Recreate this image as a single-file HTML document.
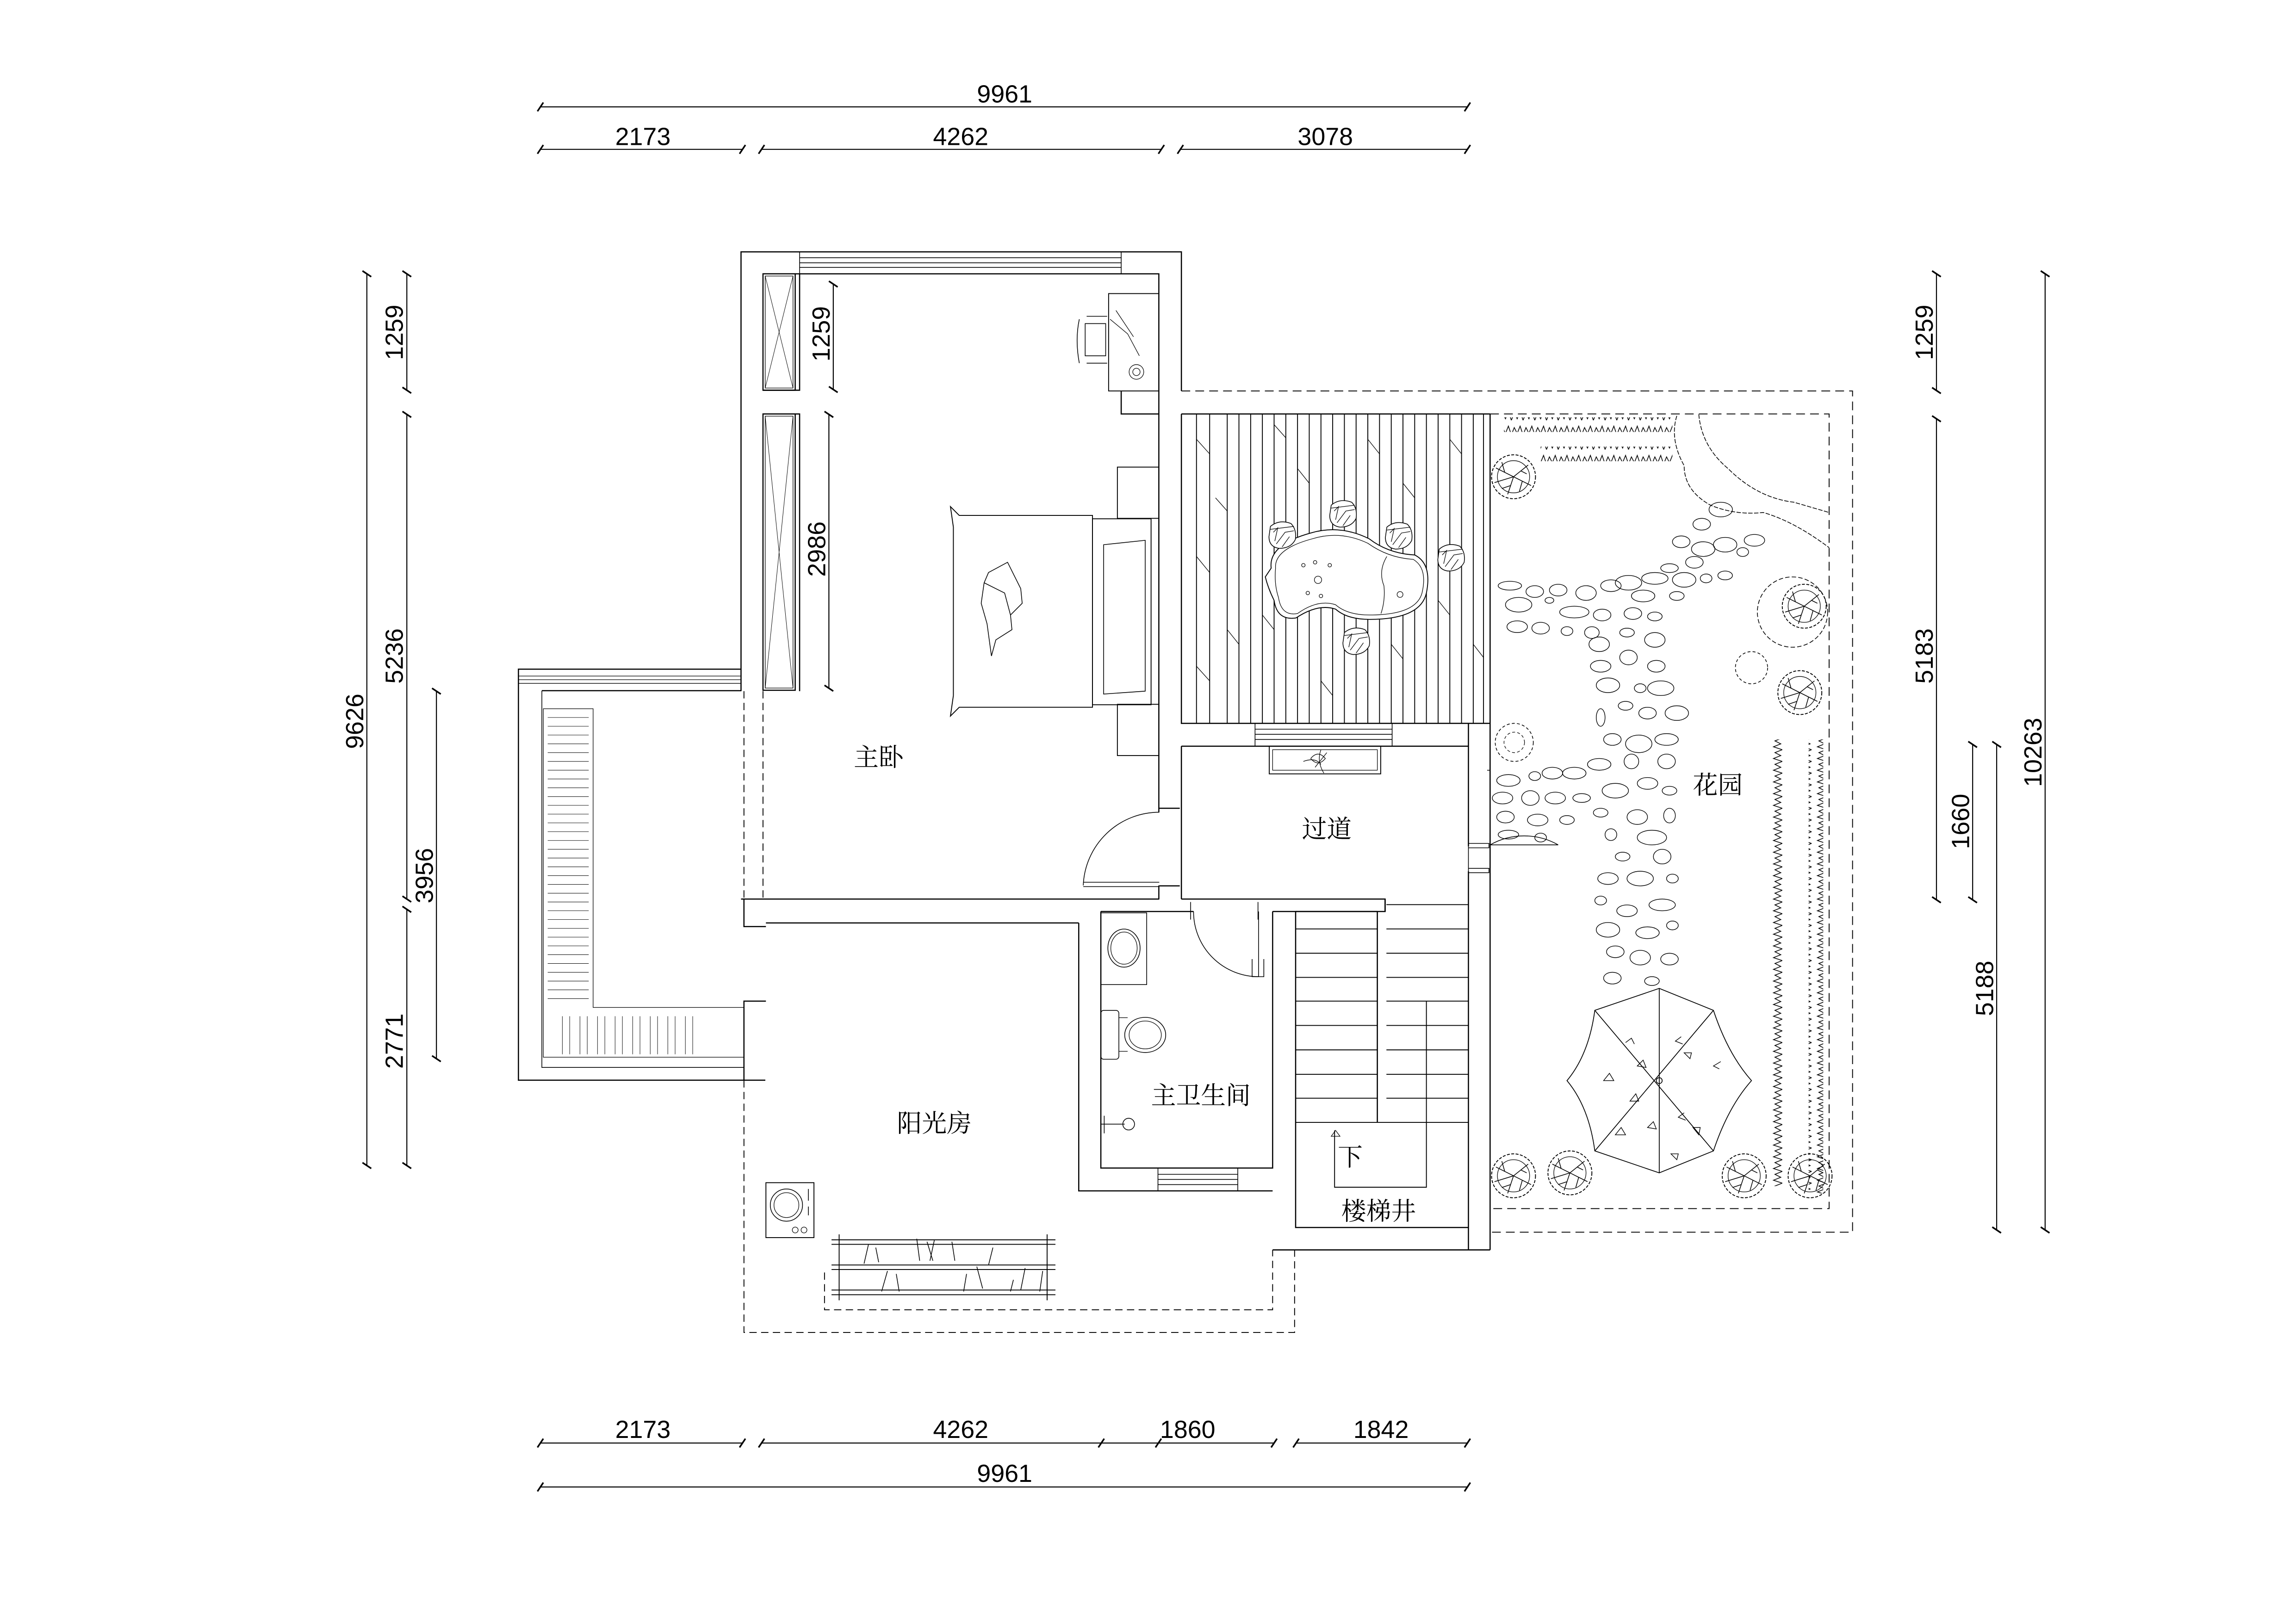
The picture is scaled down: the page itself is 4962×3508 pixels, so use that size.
<!DOCTYPE html>
<html><head><meta charset="utf-8"><style>
html,body{margin:0;padding:0;background:#fff}
svg{display:block}
text{font-family:"Liberation Sans","Noto Sans CJK SC",sans-serif;fill:#000}
.cn{font-family:"Liberation Serif","Noto Serif CJK SC",serif;font-size:17px}
.d{font-size:17px}
</style></head><body>
<svg width="4962" height="3508" viewBox="0 0 1567.8 1108.4" xmlns="http://www.w3.org/2000/svg" fill="none" stroke="#000" stroke-width="0.8">
<defs>
<pattern id="zh" width="8" height="10" patternUnits="userSpaceOnUse"><path d="M0,7 L2,2 L4,6 L6,1 L8,7" stroke="#000" stroke-width="0.5" fill="none"/></pattern>
<pattern id="zv" width="10" height="8" patternUnits="userSpaceOnUse"><path d="M7,0 L2,2 L6,4 L1,6 L7,8" stroke="#000" stroke-width="0.5" fill="none"/></pattern>
<g id="tree"><circle r="15" stroke-width="0.6" stroke-dasharray="2,1"/><circle r="11" stroke-width="0.4"/><path d="M0,0 L-12,-6 M0,0 L10,-8 M0,0 L-4,12 M0,0 L12,6 M0,0 L-13,4 M-6,-3 L-8,-10 M5,-4 L9,-2 M-2,6 L-8,8 M6,3 L4,10" stroke-width="0.5"/></g>
<g id="stool"><path d="M-8,-6 Q-2,-11 6,-8 Q10,-4 9,3 Q6,9 -2,9 Q-9,8 -9,1 Z" stroke-width="0.5"/><path d="M-8,-4 L8,-6 M-6,-2 L-3,-5 L-5,4 M-4,6 L2,-2 L8,-3 M0,8 L5,1" stroke-width="0.4"/></g>
</defs>

<!-- ===== DIMENSIONS ===== -->
<g stroke-width="0.7">
<line x1="369" y1="73" x2="1002" y2="73"/>
<line x1="369" y1="102" x2="507" y2="102"/><line x1="520" y1="102" x2="793" y2="102"/><line x1="806" y1="102" x2="1002" y2="102"/>
<line x1="369" y1="985.5" x2="507" y2="985.5"/><line x1="520" y1="985.5" x2="870" y2="985.5"/><line x1="885" y1="985.5" x2="1002" y2="985.5"/>
<line x1="369" y1="1015.5" x2="1002" y2="1015.5"/>
<line x1="250.5" y1="187" x2="250.5" y2="796"/>
<line x1="277.8" y1="187" x2="277.8" y2="266.5"/><line x1="277.8" y1="283" x2="277.8" y2="614"/><line x1="277.8" y1="621" x2="277.8" y2="796"/>
<line x1="298" y1="472" x2="298" y2="723"/>
<line x1="1322.3" y1="187" x2="1322.3" y2="266.7"/><line x1="1322.3" y1="286" x2="1322.3" y2="614.5"/>
<line x1="1347" y1="508.4" x2="1347" y2="614.5"/>
<line x1="1363.4" y1="508.4" x2="1363.4" y2="840"/>
<line x1="1396.5" y1="187" x2="1396.5" y2="840"/>
<line x1="569" y1="194" x2="569" y2="266"/>
<line x1="566" y1="283" x2="566" y2="470"/>
</g>
<g stroke-width="1.1">
<path d="M367,76 l4,-6 M505,105 l4,-6 M518,105 l4,-6 M791,105 l4,-6 M804,105 l4,-6 M1000,76 l4,-6 M1000,105 l4,-6 M367,105 l4,-6"/>
<path d="M367,988.5 l4,-6 M505,988.5 l4,-6 M518,988.5 l4,-6 M750,988.5 l4,-6 M789,988.5 l4,-6 M868,988.5 l4,-6 M883,988.5 l4,-6 M1000,988.5 l4,-6 M367,1018.5 l4,-6 M1000,1018.5 l4,-6"/>
<path d="M247.5,185 l6,4 M247.5,794 l6,4 M274.8,185 l6,4 M274.8,264.5 l6,4 M274.8,281 l6,4 M274.8,612 l6,4 M274.8,619 l6,4 M274.8,794 l6,4 M295,470 l6,4 M295,721 l6,4"/>
<path d="M1319.3,185 l6,4 M1319.3,264.7 l6,4 M1319.3,284 l6,4 M1319.3,612.5 l6,4 M1344,506.4 l6,4 M1344,612.5 l6,4 M1360.4,506.4 l6,4 M1360.4,838 l6,4 M1393.5,185 l6,4 M1393.5,838 l6,4 M566,192 l6,4 M566,264 l6,4 M563,281 l6,4 M563,468 l6,4"/>
</g>
<g stroke="none">
<text class="d" x="686" y="70" text-anchor="middle">9961</text>
<text class="d" x="439" y="99" text-anchor="middle">2173</text>
<text class="d" x="656" y="99" text-anchor="middle">4262</text>
<text class="d" x="905" y="99" text-anchor="middle">3078</text>
<text class="d" x="439" y="982" text-anchor="middle">2173</text>
<text class="d" x="656" y="982" text-anchor="middle">4262</text>
<text class="d" x="811" y="982" text-anchor="middle">1860</text>
<text class="d" x="943" y="982" text-anchor="middle">1842</text>
<text class="d" x="686" y="1012" text-anchor="middle">9961</text>
<text class="d" transform="translate(248,492.6) rotate(-90)" text-anchor="middle">9626</text>
<text class="d" transform="translate(275,227) rotate(-90)" text-anchor="middle">1259</text>
<text class="d" transform="translate(275,448) rotate(-90)" text-anchor="middle">5236</text>
<text class="d" transform="translate(275,711) rotate(-90)" text-anchor="middle">2771</text>
<text class="d" transform="translate(295.5,598) rotate(-90)" text-anchor="middle">3956</text>
<text class="d" transform="translate(1319.8,227) rotate(-90)" text-anchor="middle">1259</text>
<text class="d" transform="translate(1319.8,448) rotate(-90)" text-anchor="middle">5183</text>
<text class="d" transform="translate(1344.5,561) rotate(-90)" text-anchor="middle">1660</text>
<text class="d" transform="translate(1361,675) rotate(-90)" text-anchor="middle">5188</text>
<text class="d" transform="translate(1394,513.8) rotate(-90)" text-anchor="middle">10263</text>
<text class="d" transform="translate(566.5,228) rotate(-90)" text-anchor="middle">1259</text>
<text class="d" transform="translate(563.5,375) rotate(-90)" text-anchor="middle">2986</text>
</g>

<!-- ===== BEDROOM ===== -->
<path d="M506,472 V172 H806.7 V267"/>
<path d="M546,187 H791.3 V554.7"/>
<path d="M546,172 V187 M765.6,172 V187 M546,176 H765.6 M546,179.5 H765.6 M546,182.6 H765.6" stroke-width="0.5"/>
<!-- wardrobes -->
<rect x="521" y="187" width="22" height="79.5"/>
<rect x="522.5" y="188.5" width="19" height="76.5" stroke-width="0.4"/>
<path d="M522.5,188.5 L541.5,265 M541.5,188.5 L522.5,265" stroke-width="0.3"/>
<path d="M543,187 H546 V266.5 H521 M521,282.7 H546 V472" />
<rect x="521" y="282.7" width="22" height="188.7"/>
<rect x="522.5" y="284.2" width="19" height="185.7" stroke-width="0.4"/>
<path d="M522.5,284.2 L541.5,470 M541.5,284.2 L522.5,470" stroke-width="0.3"/>
<!-- desk -->
<rect x="757" y="200.5" width="34.3" height="66.5" stroke-width="0.6"/>
<path d="M765.6,267 V282.7 H791.3" />
<path d="M758,218 L770,228 L778,243 M762,212 L774,230" stroke-width="0.4"/>
<circle cx="776" cy="254" r="5" stroke-width="0.4"/><circle cx="776" cy="254" r="2.5" stroke-width="0.4"/>
<path d="M741,221 h14 v22 h-14 z M737,218 q-3,14 0,30 M742,216 h14 M742,248 h14" stroke-width="0.5"/>
<!-- bed -->
<rect x="763" y="319" width="28.3" height="35" stroke-width="0.6"/>
<rect x="763" y="481" width="28.3" height="35" stroke-width="0.6"/>
<rect x="746" y="354.3" width="40" height="127" stroke-width="0.6"/>
<path d="M746,352 H655 L649,346 L651,360 V475 L649,489 L655,483 H746 Z" stroke-width="0.6"/>
<path d="M753.6,372 L782,369 V472 L753.6,474 Z" stroke-width="0.5"/>
<path d="M675,391 L688,384 L697,402 L698,412 L690,420 L691,430 L680,437 L677,448 L674,426 L670,412 L672,398 Z M672,398 L686,405 L690,420" stroke-width="0.5"/>
<!-- bedroom door -->
<path d="M791.6,554.7 A52,52 0 0 0 739.7,604.7" stroke-width="0.5"/>
<path d="M739.7,602.5 H791.6 M739.7,605.5 H791.6" stroke-width="0.5"/>
<path d="M791.3,604.7 V614 M506,614 H791.6" />
<path d="M791.6,552 h14 M791.6,605 h14" stroke-width="0.8"/>
<!-- bedroom dashed left -->
<path d="M508,472 V614 M521,472 V614" stroke-dasharray="5,3" stroke-width="0.6"/>

<!-- ===== SUNROOM LEFT ===== -->
<path d="M506,457 H354 V737.7 H522.6"/>
<path d="M354,461.7 H506 M354,464.2 H506 M354,466.7 H506" stroke-width="0.4"/>
<path d="M370,471.7 H506" />
<path d="M370,471.7 V729 H508" stroke-width="0.5"/>
<path d="M371,484 H405 V688 H508 V722 H371 Z" stroke-width="0.4"/>
<g stroke-width="0.3">
<path d="M374,490h28M374,496h28M374,502h28M374,508h28M374,514h28M374,520h28M374,526h28M374,532h28M374,538h28M374,544h28M374,550h28M374,556h28M374,562h28M374,568h28M374,574h28M374,580h28M374,586h28M374,592h28M374,598h28M374,604h28M374,610h28M374,616h28M374,622h28M374,628h28M374,634h28M374,640h28M374,646h28M374,652h28M374,658h28M374,664h28M374,670h28M374,676h28M374,682h28"/>
<path d="M384,694v26M389,694v26M396,694v26M401,694v26M408,694v26M413,694v26M420,694v26M425,694v26M432,694v26M437,694v26M444,694v26M449,694v26M456,694v26M461,694v26M468,694v26M473,694v26"/>
</g>
<path d="M508,614 V632.8 H523 M523,630.3 H736.6" />
<path d="M508,737.7 V683.7 H523" />
<!-- sunroom dashed -->
<path d="M508,737.7 V910 H884 V853.6 M563,869 V894.5 H869 V853.6" stroke-dasharray="5,3" stroke-width="0.6"/>
<!-- washer -->
<rect x="523" y="807.7" width="32.8" height="37.5" stroke-width="0.6"/>
<circle cx="537" cy="823" r="11" stroke-width="0.5"/><circle cx="537" cy="823" r="8.5" stroke-width="0.4"/>
<path d="M552,812v8M552,824v6" stroke-width="0.5"/>
<circle cx="543" cy="840" r="2" stroke-width="0.4"/><circle cx="549" cy="840" r="2" stroke-width="0.4"/>
<!-- shelves -->
<g stroke-width="0.6">
<path d="M567.8,846.7 H720.7 M567.8,849.8 H720.7 M567.8,863.9 H720.7 M567.8,867 H720.7 M567.8,881 H720.7 M567.8,884.2 H720.7"/>
<path d="M573,843 V888 M715,843 V888"/>
</g>
<path d="M593,850 l-3,13 M598,852 l2,10 M606,868 l-4,14 M612,870 l2,12 M626,846 l2,15 M633,848 l4,13 M638,847 l-3,14 M660,870 l-2,12 M667,865 l4,15 M678,852 l-3,12 M700,866 l-3,15 M692,874 l-2,8 M712,868 l-2,14 M650,848 l2,13" stroke-width="0.5"/>

<!-- ===== BATHROOM ===== -->
<path d="M736.6,630.3 V813.3 H869 M751.7,622.5 V797.7 H869 V622.5 M751.7,622.5 H815" />
<path d="M790.7,797.7 V813.3 M845.2,797.7 V813.3 M790.7,802 H845.2 M790.7,805.5 H845.2 M790.7,809 H845.2" stroke-width="0.5"/>
<path d="M859.4,622.5 V667 M815,622.5 A44.4,44.4 0 0 0 859.4,667" stroke-width="0.5"/>
<path d="M806.7,614 H945.8 V622.5 H869 M806.7,614 V509.6" />
<path d="M813,616 v12 M859,616 v12 M855,655 v12 h8 v-12" stroke-width="0.5"/>
<!-- sink -->
<rect x="751.7" y="623.4" width="31.3" height="49" stroke-width="0.5"/>
<ellipse cx="767.5" cy="647.5" rx="11" ry="13" stroke-width="0.5"/><ellipse cx="767.5" cy="647.5" rx="9" ry="11" stroke-width="0.4"/>
<!-- toilet -->
<rect x="751.7" y="690" width="12.3" height="33.4" rx="2" stroke-width="0.5"/>
<ellipse cx="782" cy="706.8" rx="14" ry="12" stroke-width="0.5"/><ellipse cx="782" cy="706.8" rx="11" ry="9.5" stroke-width="0.4"/>
<path d="M764,695 h6 M764,718 h6" stroke-width="0.4"/>
<circle cx="770.7" cy="767.7" r="4" stroke-width="0.5"/><path d="M752,767.7 h16 M754,762 v12" stroke-width="0.5"/>

<!-- ===== STAIRS ===== -->
<path d="M884.7,622.5 V838.3 H1002.7 M945.8,614 V622.5 M940.5,622.5 V766.5 M884.7,622.5 H940.5" />
<g stroke-width="0.6">
<path d="M884.7,634.4H940.5M884.7,651H940.5M884.7,667.5H940.5M884.7,683.7H940.5M884.7,700.3H940.5M884.7,717H940.5M884.7,733.7H940.5M884.7,750H940.5M884.7,766.5H1002.7"/>
<path d="M946.7,617.8H1002.7M946.7,634.4H1002.7M946.7,651H1002.7M946.7,667.5H1002.7M946.7,683.7H1002.7M946.7,700.3H1002.7M946.7,717H1002.7M946.7,733.7H1002.7M946.7,750H1002.7"/>
<path d="M974,683.7 V810.8 H911.3 V772"/>
<path d="M909,776 l3,-4 l3,4 z" stroke-width="0.4"/>
</g>
<path d="M869,853.6 H1017.5" />
<!-- corridor -->
<path d="M806.7,282.7 V494 H1017.5 M806.7,509.6 H1002.7 V578 M1002.7,595 V853.6 M1017.5,282.7 V853.6 M1002.7,494 V509.6" />
<path d="M857,494 V509.6 M950.6,494 V509.6 M857,498 H950.6 M857,501.5 H950.6 M857,505 H950.6" stroke-width="0.5"/>
<rect x="866.7" y="509.6" width="76.1" height="18.9" stroke-width="0.6"/>
<rect x="869" y="512" width="71.5" height="14" stroke-width="0.4"/>
<path d="M895,518 q5,-6 10,0 q-5,6 -10,0 M890,520 q8,-3 12,2 M902,512 q-3,8 2,16 M898,524 l8,-10" stroke-width="0.4"/>
<path d="M1002.7,576 h14 v3 h-14 M1002.7,578 V595 M1002.7,593 h14 v3 h-14" stroke-width="0.5"/>
<path d="M1017.5,526 h-2 M1017.5,577 A47,47 0 0 1 1064,577 M1017.5,577 H1064" stroke-width="0.5"/>

<!-- ===== DECK ===== -->
<path d="M806.7,267 H1265 V841.5 H1017.5" stroke-dasharray="6,3.5" stroke-width="0.6"/>
<path d="M1017.5,282.7 H1249 V825.4 H1017.5" stroke-dasharray="6,3.5" stroke-width="0.6"/>
<path d="M806.7,282.7 H1017.5"/>
<g stroke-width="0.6">
<path d="M817,282.7V494M826,282.7V494M862,282.7V494M870,282.7V494M878,282.7V494M886,282.7V494M894,282.7V494M902,282.7V494M910,282.7V494M918,282.7V494M926,282.7V494M934,282.7V494M942,282.7V494M950,282.7V494M958,282.7V494M966,282.7V494M974,282.7V494M982,282.7V494M990,282.7V494M998,282.7V494M1006,282.7V494M1013,282.7V494"/>
<path d="M846,282.7V494M838,282.7V494M854,282.7V494"/>
</g>
<path d="M817,300 l9,10 M830,340 l8,9 M817,380 l9,11 M838,430 l8,10 M817,455 l9,10 M870,290 l8,9 M886,320 l8,10 M934,300 l8,10 M958,330 l8,10 M990,300 l8,10 M982,410 l8,10 M950,440 l8,10 M902,465 l8,10 M1006,440 l7,9 M862,420 l8,10" stroke-width="0.4"/>
<!-- table -->
<path d="M868,388 Q866,372 895,364 Q915,358 935,368 Q948,378 966,379 Q978,385 974,405 Q970,423 935,423 Q920,423 912,416 Q900,412 885,422 Q872,424 870,410 Q866,402 864,394 Z" fill="#fff" stroke-width="0.6"/>
<path d="M871,388 Q870,375 896,368 Q915,362 934,371 Q948,381 965,382 Q975,388 971,405 Q967,420 935,420 Q920,420 912,413 Q900,409 886,419 Q875,421 873,408 Q870,399 871,388 Z" stroke-width="0.4"/>
<path d="M947,380 Q941,390 945,400 Q946,410 943,419" stroke-width="0.4"/>
<circle cx="900" cy="396" r="2.5" stroke-width="0.4"/><circle cx="890" cy="386" r="1.2" stroke-width="0.4"/><circle cx="898" cy="384" r="1.2" stroke-width="0.4"/><circle cx="908" cy="386" r="1.2" stroke-width="0.4"/><circle cx="893" cy="405" r="1.2" stroke-width="0.4"/><circle cx="902" cy="407" r="1.2" stroke-width="0.4"/><circle cx="956" cy="406" r="2" stroke-width="0.4"/>
<use href="#stool" x="875.5" y="365.5" fill="#fff"/>
<use href="#stool" x="917" y="351" fill="#fff"/>
<use href="#stool" x="955" y="366" fill="#fff"/>
<use href="#stool" x="990.8" y="381" fill="#fff"/>
<use href="#stool" x="926" y="438" fill="#fff"/>

<!-- ===== GARDEN ===== -->
<rect x="1027" y="285" width="115" height="10" fill="url(#zh)" stroke="none"/>
<rect x="1052" y="305" width="90" height="10" fill="url(#zh)" stroke="none"/>
<rect x="1210" y="505" width="10" height="305" fill="url(#zv)" stroke="none"/>
<rect x="1235" y="505" width="10" height="310" fill="url(#zv)" stroke="none"/>
<path d="M1145,284 Q1140,300 1150,318 Q1150,335 1168,345 Q1185,352 1204,350 Q1225,356 1249,374" stroke-width="0.5" stroke-dasharray="3,1"/>
<path d="M1160,283 Q1162,305 1180,320 Q1200,340 1225,343 L1249,350" stroke-width="0.5" stroke-dasharray="3,1"/>
<use href="#tree" x="1033.5" y="325.6"/>
<use href="#tree" x="1033.5" y="803"/>
<use href="#tree" x="1072" y="801"/>
<use href="#tree" x="1191" y="803"/>
<use href="#tree" x="1236" y="803"/>
<use href="#tree" x="1229" y="473"/>
<circle cx="1224" cy="418" r="24" stroke-width="0.5" stroke-dasharray="3,1.5"/>
<use href="#tree" x="1232" y="414"/>
<circle cx="1196" cy="456" r="11" stroke-width="0.5" stroke-dasharray="2,1.5"/>
<circle cx="1034" cy="507" r="13" stroke-width="0.5" stroke-dasharray="2,1.5"/>
<circle cx="1034" cy="507" r="7" stroke-width="0.4" stroke-dasharray="2,1.5"/>
<g stroke-width="0.45">
<ellipse cx="1031" cy="400" rx="8" ry="3"/><ellipse cx="1048" cy="404" rx="6" ry="4"/><ellipse cx="1064" cy="403" rx="6" ry="4"/><ellipse cx="1083" cy="405" rx="7" ry="5"/><ellipse cx="1100" cy="400" rx="7" ry="4"/><ellipse cx="1037" cy="413" rx="9" ry="5"/><ellipse cx="1058" cy="410" rx="3" ry="2"/><ellipse cx="1075" cy="418" rx="10" ry="4"/><ellipse cx="1094" cy="420" rx="6" ry="4"/><ellipse cx="1036" cy="428" rx="7" ry="4"/><ellipse cx="1052" cy="429" rx="6" ry="4"/><ellipse cx="1070" cy="431" rx="4" ry="3"/><ellipse cx="1087" cy="432" rx="5" ry="4"/><ellipse cx="1112" cy="398" rx="9" ry="5"/><ellipse cx="1122" cy="407" rx="8" ry="4"/><ellipse cx="1130" cy="395" rx="9" ry="4"/><ellipse cx="1140" cy="388" rx="6" ry="3"/><ellipse cx="1115" cy="419" rx="6" ry="4"/><ellipse cx="1130" cy="421" rx="5" ry="3"/><ellipse cx="1145" cy="407" rx="5" ry="3"/><ellipse cx="1150" cy="396" rx="8" ry="5"/><ellipse cx="1157" cy="384" rx="6" ry="4"/><ellipse cx="1163" cy="375" rx="8" ry="5"/><ellipse cx="1178" cy="372" rx="8" ry="5"/><ellipse cx="1148" cy="370" rx="6" ry="4"/><ellipse cx="1162" cy="358" rx="6" ry="4"/><ellipse cx="1175" cy="348" rx="8" ry="5"/><ellipse cx="1190" cy="377" rx="4" ry="3"/><ellipse cx="1198" cy="369" rx="7" ry="4"/><ellipse cx="1165" cy="395" rx="4" ry="3"/><ellipse cx="1178" cy="393" rx="5" ry="3"/>
<ellipse cx="1092" cy="440" rx="7" ry="5"/><ellipse cx="1111" cy="432" rx="5" ry="3"/><ellipse cx="1130" cy="437" rx="7" ry="5"/><ellipse cx="1093" cy="455" rx="7" ry="4"/><ellipse cx="1112" cy="449" rx="6" ry="5"/><ellipse cx="1131" cy="455" rx="6" ry="4"/><ellipse cx="1098" cy="468" rx="8" ry="5"/><ellipse cx="1120" cy="470" rx="4" ry="3"/><ellipse cx="1134" cy="470" rx="9" ry="5"/><ellipse cx="1110" cy="482" rx="5" ry="3"/><ellipse cx="1093" cy="490" rx="3" ry="6"/><ellipse cx="1125" cy="487" rx="6" ry="4"/><ellipse cx="1145" cy="487" rx="8" ry="5"/><ellipse cx="1101" cy="505" rx="6" ry="4"/><ellipse cx="1119" cy="508" rx="9" ry="6"/><ellipse cx="1138" cy="505" rx="8" ry="4"/><ellipse cx="1092" cy="522" rx="8" ry="4"/><ellipse cx="1114" cy="520" rx="5" ry="5"/><ellipse cx="1138" cy="520" rx="6" ry="5"/><ellipse cx="1125" cy="535" rx="7" ry="4"/><ellipse cx="1103" cy="540" rx="9" ry="5"/><ellipse cx="1140" cy="540" rx="5" ry="3"/><ellipse cx="1093" cy="555" rx="5" ry="3"/><ellipse cx="1118" cy="558" rx="7" ry="5"/><ellipse cx="1140" cy="557" rx="4" ry="5"/><ellipse cx="1100" cy="570" rx="4" ry="4"/><ellipse cx="1128" cy="572" rx="10" ry="5"/><ellipse cx="1108" cy="585" rx="5" ry="3"/><ellipse cx="1135" cy="585" rx="6" ry="5"/><ellipse cx="1098" cy="600" rx="7" ry="4"/><ellipse cx="1120" cy="600" rx="9" ry="5"/><ellipse cx="1142" cy="600" rx="4" ry="3"/><ellipse cx="1093" cy="615" rx="4" ry="3"/><ellipse cx="1111" cy="622" rx="7" ry="4"/><ellipse cx="1135" cy="618" rx="9" ry="4"/><ellipse cx="1098" cy="635" rx="8" ry="5"/><ellipse cx="1125" cy="637" rx="8" ry="4"/><ellipse cx="1142" cy="632" rx="4" ry="3"/><ellipse cx="1103" cy="650" rx="6" ry="4"/><ellipse cx="1120" cy="654" rx="7" ry="5"/><ellipse cx="1140" cy="655" rx="6" ry="4"/><ellipse cx="1101" cy="668" rx="6" ry="4"/><ellipse cx="1128" cy="670" rx="5" ry="3"/>
<ellipse cx="1030" cy="533" rx="8" ry="4"/><ellipse cx="1048" cy="530" rx="4" ry="3"/><ellipse cx="1060" cy="528" rx="7" ry="4"/><ellipse cx="1075" cy="528" rx="8" ry="4"/><ellipse cx="1026" cy="545" rx="7" ry="4"/><ellipse cx="1045" cy="545" rx="6" ry="5"/><ellipse cx="1062" cy="545" rx="7" ry="4"/><ellipse cx="1080" cy="545" rx="6" ry="3"/><ellipse cx="1028" cy="558" rx="6" ry="4"/><ellipse cx="1050" cy="560" rx="7" ry="4"/><ellipse cx="1070" cy="560" rx="5" ry="3"/><ellipse cx="1030" cy="570" rx="7" ry="3"/><ellipse cx="1052" cy="572" rx="4" ry="3"/>
</g>
<!-- umbrella -->
<g stroke-width="0.55">
<path d="M1133,675 L1170,690 Q1180,720 1196,738 Q1180,756 1170,786 L1133,801 L1089,786 Q1085,756 1070,738 Q1085,720 1089,690 Z"/>
<path d="M1133,675 V801 M1089,690 L1170,786 M1170,690 L1089,786"/>
<circle cx="1133" cy="738" r="2"/>
<path d="M1110,712 l4,-3 l2,4 M1148,708 l-4,3 l5,2 M1095,738 l4,-5 l3,5 z M1175,725 l-5,3 l4,2 M1113,752 l4,-5 l2,5 z M1150,760 l-4,3 l5,2 M1103,775 l4,-5 l3,5 z M1160,775 l-4,-5 l5,0 z M1145,792 l-4,-4 l5,0 z M1125,770 l4,-4 l2,5 z M1118,728 l4,-4 l2,5 z M1154,723 l-4,-4 l5,0 z" stroke-width="0.45"/>
</g>

<!-- ===== LABELS ===== -->
<g stroke="none">
<text class="cn" x="600" y="523" text-anchor="middle">主卧</text>
<text class="cn" x="906" y="572" text-anchor="middle">过道</text>
<text class="cn" x="820" y="754" text-anchor="middle">主卫生间</text>
<text class="cn" x="638" y="773" text-anchor="middle">阳光房</text>
<text class="cn" x="1173" y="542" text-anchor="middle">花园</text>
<text class="cn" x="922" y="796" text-anchor="middle">下</text>
<text class="cn" x="941.4" y="833" text-anchor="middle">楼梯井</text>
</g>
</svg>
</body></html>
